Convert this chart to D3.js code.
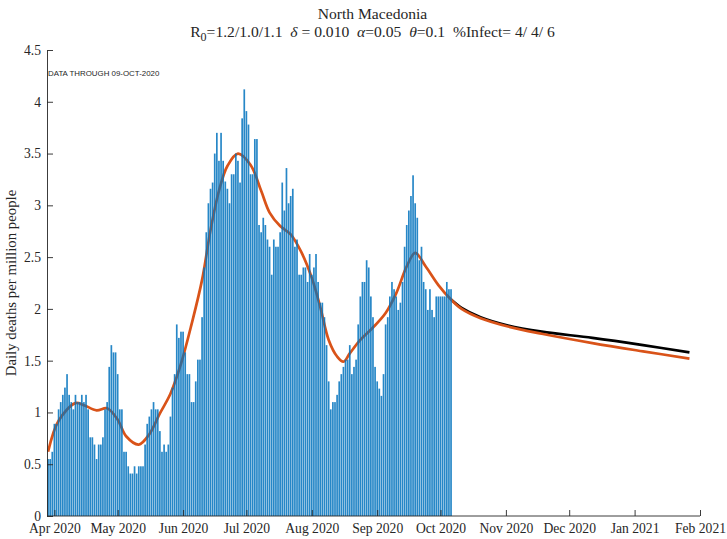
<!DOCTYPE html>
<html>
<head>
<meta charset="utf-8">
<script src="https://cdnjs.cloudflare.com/ajax/libs/d3/7.8.5/d3.min.js"></script>
<style>
  body { margin: 0; background: #fff; }
  svg text { font-family: "Liberation Serif", "Times New Roman", serif; fill: #262626; }
</style>
</head>
<body>
<div id="chart"></div>
<script>
// daily deaths per million (7-day centred average), first bar on 29 Mar 2020
var barStart = new Date(2020, 2, 29);
var dailyDeaths = [
  0.55, 0.55, 0.62, 0.89, 0.89, 1.03, 1.10, 1.17, 1.24, 1.37,
  1.17, 1.10, 1.03, 1.17, 1.10, 1.10, 1.17, 1.10, 1.17, 1.03,
  0.76, 0.76, 0.69, 0.55, 0.69, 0.69, 0.76, 1.03, 1.10, 1.44,
  1.65, 1.58, 1.58, 1.37, 1.03, 1.03, 0.62, 0.62, 0.48, 0.41,
  0.41, 0.48, 0.41, 0.48, 0.48, 0.48, 0.69, 0.89, 0.96, 1.03,
  1.10, 1.03, 1.03, 0.82, 0.62, 0.69, 0.62, 0.69, 0.96, 1.24,
  1.37, 1.85, 1.72, 1.78, 1.78, 1.58, 1.37, 1.37, 1.10, 1.10,
  1.30, 1.51, 1.51, 1.92, 2.40, 2.74, 3.02, 3.16, 3.22, 3.50,
  3.70, 3.43, 3.70, 3.43, 3.23, 3.16, 3.02, 3.30, 3.30, 3.50,
  3.43, 3.22, 3.84, 4.12, 3.91, 3.78, 3.30, 3.30, 3.64, 3.64,
  2.81, 2.74, 2.88, 2.81, 2.67, 2.60, 2.33, 2.67, 2.60, 2.60,
  2.74, 3.22, 2.95, 3.36, 3.02, 3.09, 3.16, 2.60, 2.67, 2.33,
  2.33, 2.40, 2.40, 2.26, 2.53, 2.33, 2.40, 2.53, 2.26, 2.06,
  2.06, 1.92, 1.65, 1.30, 1.03, 1.10, 1.10, 1.17, 1.30, 1.37,
  1.44, 1.51, 1.51, 1.65, 1.37, 1.44, 1.51, 1.85, 2.12, 2.26,
  2.26, 2.47, 2.40, 2.12, 1.92, 1.44, 1.30, 1.23, 1.16, 1.37,
  1.85, 1.92, 2.12, 2.26, 2.19, 2.12, 1.99, 2.06, 2.26, 2.60,
  2.81, 2.95, 3.09, 3.29, 3.02, 2.88, 2.47, 2.60, 2.26, 2.19,
  1.99, 2.19, 1.99, 1.92, 2.12, 2.12, 2.12, 2.12, 2.12, 2.26,
  2.19, 2.19
];

// model fit (orange)
var fitDates = ["2020-03-29","2020-04-03","2020-04-11","2020-04-15","2020-04-21","2020-04-26",
  "2020-05-01","2020-05-05","2020-05-11","2020-05-16","2020-05-21","2020-05-26","2020-05-31",
  "2020-06-05","2020-06-10","2020-06-14","2020-06-18","2020-06-22","2020-06-27","2020-07-03",
  "2020-07-08","2020-07-12","2020-07-17","2020-07-22","2020-07-27","2020-08-01","2020-08-05",
  "2020-08-09","2020-08-13","2020-08-16","2020-08-19","2020-08-24","2020-08-30","2020-09-05",
  "2020-09-10","2020-09-15","2020-09-19","2020-09-24","2020-09-30","2020-10-06","2020-10-11",
  "2020-10-20","2020-11-02","2020-11-18","2020-12-12","2021-01-05","2021-01-27"];
var fitValues = [0.62, 0.92, 1.09, 1.07, 1.02, 1.04,
  0.93, 0.77, 0.69, 0.79, 0.99, 1.18, 1.47,
  1.85, 2.28, 2.76, 3.14, 3.38, 3.50, 3.39,
  3.14, 2.93, 2.80, 2.72, 2.55, 2.30, 2.02,
  1.70, 1.54, 1.49, 1.57, 1.70, 1.82, 1.96,
  2.15, 2.41, 2.54, 2.41, 2.23, 2.09, 2.00,
  1.91, 1.83, 1.76, 1.67, 1.59, 1.52];

// projection (black)
var projDates = ["2020-10-06","2020-10-11","2020-10-20","2020-11-02","2020-11-18","2020-12-12","2021-01-05","2021-01-27"];
var projValues = [2.09, 2.01, 1.92, 1.84, 1.78, 1.72, 1.65, 1.58];

var xTickLabels = ["Apr 2020","May 2020","Jun 2020","Jul 2020","Aug 2020","Sep 2020",
  "Oct 2020","Nov 2020","Dec 2020","Jan 2021","Feb 2021"];
var yTickValues = [0, 0.5, 1, 1.5, 2, 2.5, 3, 3.5, 4, 4.5];

var W = 727, H = 539;
var padL = 47, padR = 700, padT = 50, padB = 516;

var parse = d3.timeParse("%Y-%m-%d");

var x = d3.scaleTime()
  .domain([new Date(2020, 2, 28, 12), new Date(2021, 1, 1)])
  .range([padL, padR]);
var y = d3.scaleLinear().domain([0, 4.5]).range([padB, padT]);

var svg = d3.select("#chart").append("svg")
  .attr("width", W).attr("height", H);

svg.append("clipPath").attr("id", "clip")
  .append("rect").attr("x", padL).attr("y", padT - 5)
  .attr("width", padR - padL).attr("height", padB - padT + 5);

var plot = svg.append("g").attr("clip-path", "url(#clip)");

var line = d3.line()
  .x(function(d){ return x(d[0]); })
  .y(function(d){ return y(d[1]); })
  .curve(d3.curveCatmullRom.alpha(0.5));

plot.append("path")
  .datum(projDates.map(function(d, i){ return [parse(d), projValues[i]]; }))
  .attr("d", line)
  .attr("fill", "none").attr("stroke", "#000").attr("stroke-width", 2.7);

plot.append("path")
  .datum(fitDates.map(function(d, i){ return [parse(d), fitValues[i]]; }))
  .attr("d", line)
  .attr("fill", "none").attr("stroke", "#D95319").attr("stroke-width", 2.7);

var step = x(d3.timeDay.offset(barStart, 1)) - x(barStart);
var bw = step * 0.8;

plot.selectAll("rect.bar")
  .data(dailyDeaths)
  .enter()
  .append("rect")
  .attr("class", "bar")
  .attr("x", function(d, i){ return x(d3.timeDay.offset(barStart, i)) - bw / 2; })
  .attr("y", function(d){ return y(d); })
  .attr("width", bw)
  .attr("height", function(d){ return padB - y(d); })
  .attr("fill", "#0072BD")
  .attr("fill-opacity", 0.85);

// axes
var monthTicks = xTickLabels.map(function(d, i){ return new Date(2020, 3 + i, 1); });

var xAxis = svg.append("g")
  .attr("transform", "translate(0," + padB + ")")
  .call(d3.axisBottom(x).tickValues(monthTicks)
    .tickFormat(function(d, i){ return xTickLabels[i]; })
    .tickSizeInner(-6).tickSizeOuter(0).tickPadding(7));

var yAxis = svg.append("g")
  .attr("transform", "translate(" + padL + ",0)")
  .call(d3.axisLeft(y).tickValues(yTickValues)
    .tickFormat(function(d){ return String(d); })
    .tickSizeInner(-6).tickSizeOuter(0).tickPadding(6));

[xAxis, yAxis].forEach(function(a){
  a.selectAll("path.domain").attr("stroke", "#262626").attr("stroke-width", 0.9);
  a.selectAll(".tick line").attr("stroke", "#262626").attr("stroke-width", 0.9);
  a.selectAll(".tick text").attr("font-family", "Liberation Serif, Times New Roman, serif")
    .attr("font-size", 13.6).attr("fill", "#262626");
});
xAxis.select("path.domain").attr("d", "M" + padL + ",0H" + padR);

// titles
var cx = (padL + padR) / 2 - 1;
svg.append("text").attr("x", cx).attr("y", 19)
  .attr("text-anchor", "middle").attr("font-size", 15.6)
  .text("North Macedonia");

var t2 = svg.append("text").attr("x", cx).attr("y", 37)
  .attr("text-anchor", "middle").attr("font-size", 15.6)
  .style("white-space", "pre");
t2.append("tspan").text("R");
t2.append("tspan").attr("dy", 4).attr("font-size", 12).text("0");
t2.append("tspan").attr("dy", -4).text("=1.2/1.0/1.1  ");
t2.append("tspan").attr("font-style", "italic").text("\u03B4");
t2.append("tspan").text(" = 0.010  ");
t2.append("tspan").attr("font-style", "italic").text("\u03B1");
t2.append("tspan").text("=0.05  ");
t2.append("tspan").attr("font-style", "italic").text("\u03B8");
t2.append("tspan").text("=0.1  %Infect= 4/ 4/ 6");

svg.append("text")
  .attr("transform", "translate(16," + ((padT + padB) / 2) + ") rotate(-90)")
  .attr("text-anchor", "middle").attr("font-size", 14.8)
  .text("Daily deaths per million people");

svg.append("text").attr("x", 48).attr("y", 76)
  .style("font-family", "Liberation Sans, Arial, sans-serif")
  .attr("font-size", 7.9)
  .text("DATA THROUGH 09-OCT-2020");
</script>
</body>
</html>
